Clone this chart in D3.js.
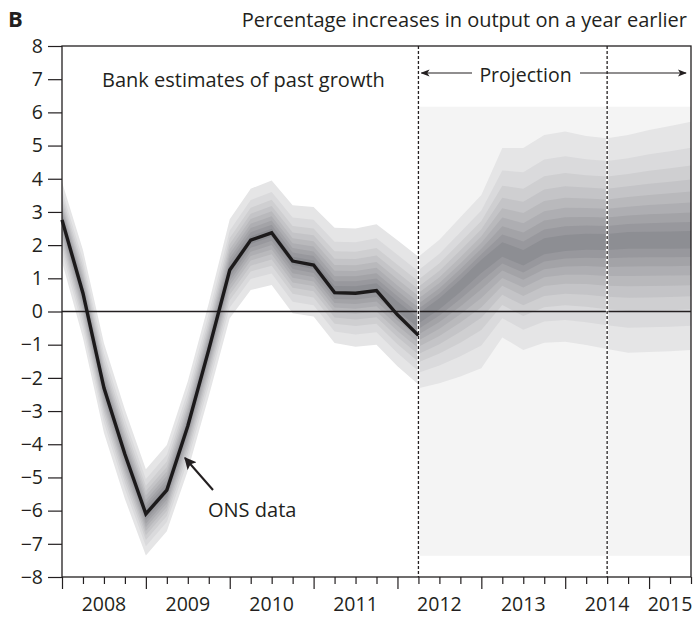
<!DOCTYPE html>
<html><head><meta charset="utf-8">
<script src="https://cdn.jsdelivr.net/npm/d3@7"></script>
<style>
html,body{margin:0;padding:0;background:#fff;}
svg{display:block;font-family:"Open Sans",sans-serif;}
</style></head><body>
<svg id="chart" width="694" height="617"></svg>
<script>
// ---- data ----
// quarter index 0 = first quarter of 2008
const yearLabels = ["2008","2009","2010","2011","2012","2013","2014","2015"];
const yearLabelQuarter = [2, 6, 10, 14, 18, 22, 26, 29];
const yTicks = [-8,-7,-6,-5,-4,-3,-2,-1,0,1,2,3,4,5,6,7,8];

// ONS estimates of four-quarter GDP growth (%)
const onsQuarter = [0,1,2,3,4,5,6,7,8,9,10,11,12,13,14,15,16,17];
const onsGrowth  = [2.76,0.55,-2.3,-4.3,-6.1,-5.38,-3.45,-1.15,1.25,2.15,2.37,1.52,1.4,0.57,0.55,0.63,-0.1,-0.72];

// Bank estimates of past growth: central value and outer (90%) band edges
const pastMode  = [2.76,0.55,-2.3,-4.3,-6.1,-5.38,-3.45,-1.15,1.25,2.15,2.37,1.52,1.4,0.62,0.62,0.7,0.15,-0.35];
const pastUpper = [3.9,1.85,-0.95,-2.95,-4.75,-4.02,-2.1,0.25,2.78,3.7,3.95,3.2,3.15,2.52,2.5,2.63,2.15,1.65];
const pastLower = [1.5,-0.8,-3.65,-5.65,-7.35,-6.62,-4.8,-2.55,-0.2,0.65,0.8,-0.05,-0.15,-0.95,-1.06,-1.0,-1.65,-2.2];

// Projection: central value and outer (90%) band edges
const projQuarter = [17,18,19,20,21,22,23,24,25,26,27,28,29,30];
const projMode  = [-0.2,0.25,0.8,1.4,1.85,1.6,1.95,2.05,2.1,2.1,2.15,2.15,2.15,2.15];
const projUpper = [1.65,2.16,2.84,3.51,4.93,4.93,5.32,5.42,5.29,5.22,5.32,5.47,5.59,5.72];
const projLower = [-2.31,-2.16,-1.96,-1.71,-0.78,-1.16,-0.94,-0.91,-1.01,-1.13,-1.24,-1.22,-1.2,-1.16];

// probability range covered by the outer shading of the projection
const shadeRange = [-7.36, 6.17];
const dividerQuarter = [17, 26];

// normal quantiles bounding each 10% band pair, outermost first
const bandZ = [1.645,1.282,1.036,0.842,0.674,0.524,0.385,0.253,0.126];
const bandColors = ["#e5e5e6","#dadadc","#cfcfd1","#c4c4c7","#b9b9bc","#aeaeb2","#a3a3a7","#98989d","#8d8e93"];

// ---- drawing ----
const svg = d3.select("#chart");
const ink = "#231f20";
const x = d3.scaleLinear().domain([0, 30]).range([62, 691]);
const y = d3.scaleLinear().domain([-8, 8]).range([577, 46]);

const defs = svg.append("defs");
defs.append("marker").attr("id","headThin").attr("viewBox","0 0 10 10")
  .attr("refX",9).attr("refY",5).attr("markerWidth",9).attr("markerHeight",9)
  .attr("markerUnits","userSpaceOnUse").attr("orient","auto")
  .append("path").attr("d","M0,1 L10,5 L0,9 L2.5,5 Z").attr("fill",ink);
defs.append("marker").attr("id","headBold").attr("viewBox","0 0 10 10")
  .attr("refX",9).attr("refY",5).attr("markerWidth",12).attr("markerHeight",12)
  .attr("markerUnits","userSpaceOnUse").attr("orient","auto")
  .append("path").attr("d","M0,0 L10,5 L0,10 L2,5 Z").attr("fill",ink);

// shaded background behind the projection
svg.append("rect")
  .attr("x", x(dividerQuarter[0])).attr("width", x(30) - x(dividerQuarter[0]))
  .attr("y", y(shadeRange[1])).attr("height", y(shadeRange[0]) - y(shadeRange[1]))
  .attr("fill", "#f4f4f4");

function drawFan(qs, mode, upper, lower) {
  const g = svg.append("g");
  bandZ.forEach((z, k) => {
    const f = z / bandZ[0];
    const area = d3.area()
      .x((d, i) => x(qs[i]))
      .y0((d, i) => y(mode[i] - (mode[i] - lower[i]) * f))
      .y1((d, i) => y(mode[i] + (upper[i] - mode[i]) * f));
    g.append("path").datum(mode).attr("d", area).attr("fill", bandColors[k]);
  });
}
drawFan(onsQuarter, pastMode, pastUpper, pastLower);
drawFan(projQuarter, projMode, projUpper, projLower);

// zero line
svg.append("line").attr("x1", x(0)).attr("x2", x(30))
  .attr("y1", y(0)).attr("y2", y(0)).attr("stroke", ink).attr("stroke-width", 1.4);

// dividers
dividerQuarter.forEach(q => {
  svg.append("line").attr("x1", x(q)).attr("x2", x(q)).attr("y1", y(8)).attr("y2", y(-8))
    .attr("stroke", "#fff").attr("stroke-width", 2.4);
  svg.append("line").attr("x1", x(q)).attr("x2", x(q)).attr("y1", y(8)).attr("y2", y(-8))
    .attr("stroke", ink).attr("stroke-width", 1.3).attr("stroke-dasharray", "3,2");
});

// ONS line
svg.append("path").datum(onsGrowth)
  .attr("d", d3.line().x((d, i) => x(onsQuarter[i])).y(d => y(d)))
  .attr("fill", "none").attr("stroke", "#1c1a1b").attr("stroke-width", 3.4)
  .attr("stroke-linejoin", "miter");

// frame
svg.append("rect").attr("x", x(0)).attr("y", y(8))
  .attr("width", x(30) - x(0)).attr("height", y(-8) - y(8))
  .attr("fill", "none").attr("stroke", ink).attr("stroke-width", 1.3);

// axes
const fmt = d => d < 0 ? "\u2212" + Math.abs(d) : String(d);
const yAxis = svg.append("g").attr("transform", `translate(${x(0)},0)`)
  .call(d3.axisLeft(y).tickValues(yTicks).tickSize(14).tickPadding(5).tickFormat(fmt));
yAxis.select(".domain").remove();
yAxis.selectAll("line").attr("stroke", ink).attr("stroke-width", 1.2);
yAxis.selectAll("text").attr("font-size", 19.5).attr("fill", ink).attr("font-family", "Open Sans");

const xAxis = svg.append("g").attr("transform", `translate(0,${y(-8)})`)
  .call(d3.axisBottom(x).tickValues(d3.range(0, 31)).tickSize(7).tickFormat(""));
xAxis.select(".domain").remove();
xAxis.selectAll("line").attr("stroke", ink).attr("stroke-width", 1.2)
  .attr("y2", d => d % 4 === 0 ? 12 : 7);

svg.append("g").selectAll("text").data(yearLabels).join("text")
  .attr("x", (d, i) => x(yearLabelQuarter[i])).attr("y", 611)
  .attr("text-anchor", "middle").attr("font-size", 19.5).attr("fill", ink)
  .text(d => d);

// titles and annotations
svg.append("text").attr("x", 8).attr("y", 27).attr("font-size", 22)
  .attr("font-weight", "bold").attr("fill", ink).text("B");
svg.append("text").attr("x", 687).attr("y", 27).attr("font-size", 20)
  .attr("text-anchor", "end").attr("fill", ink)
  .text("Percentage increases in output on a year earlier");
svg.append("text").attr("x", 102).attr("y", 87).attr("font-size", 20)
  .attr("fill", ink).text("Bank estimates of past growth");
svg.append("text").attr("x", 525.5).attr("y", 82).attr("font-size", 19.5)
  .attr("text-anchor", "middle").attr("fill", ink).text("Projection");
svg.append("line").attr("x1", 472).attr("x2", x(dividerQuarter[0]) + 3)
  .attr("y1", 73).attr("y2", 73).attr("stroke", ink).attr("stroke-width", 1.2)
  .attr("marker-end", "url(#headThin)");
svg.append("line").attr("x1", 580).attr("x2", x(30) - 5)
  .attr("y1", 73).attr("y2", 73).attr("stroke", ink).attr("stroke-width", 1.2)
  .attr("marker-end", "url(#headThin)");

svg.append("text").attr("x", 208).attr("y", 517).attr("font-size", 20)
  .attr("fill", ink).text("ONS data");
svg.append("line").attr("x1", 213).attr("y1", 490).attr("x2", 185).attr("y2", 458)
  .attr("stroke", ink).attr("stroke-width", 2).attr("marker-end", "url(#headBold)");
</script>
</body></html>
